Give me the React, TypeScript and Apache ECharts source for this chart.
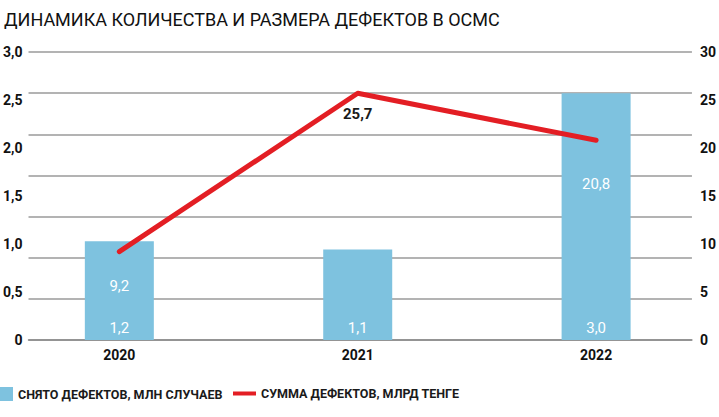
import React, { useEffect, useRef } from "react";
import * as echarts from "echarts";

const title = "ДИНАМИКА КОЛИЧЕСТВА И РАЗМЕРА ДЕФЕКТОВ В ОСМС";
const years = [2020, 2021, 2022];
const barName = "СНЯТО ДЕФЕКТОВ, МЛН СЛУЧАЕВ";
const lineName = "СУММА ДЕФЕКТОВ, МЛРД ТЕНГЕ";
const defectsCount = [1.2, 1.1, 3.0];
const defectsSum = [9.2, 25.7, 20.8];
const lineLabelColors = ["#ffffff", "#1a1a1a", "#ffffff"];
const lineLabelWeights = ["normal", "bold", "normal"];
const lineLabelDistances = [26, 13, 36];

const NARROW = 'Roboto, "DejaVu Sans Condensed", sans-serif';
const fmt = (v: number) => (v === 0 ? "0" : v.toFixed(1).replace(".", ","));

export default function App() {
  const ref = useRef<HTMLDivElement>(null);
  useEffect(() => {
    if (!ref.current) return;
    const chart = echarts.init(ref.current, null, { renderer: "svg" });
    chart.setOption({
      animation: false,
      backgroundColor: "#ffffff",
      title: {
        text: title,
        left: -1,
        top: 5,
        textStyle: { fontFamily: "Roboto, sans-serif", fontWeight: "normal", fontSize: 18, color: "#111" },
      },
      legend: [
        {
          data: [{ name: barName, icon: "rect" }],
          left: -6,
          top: 382,
          itemWidth: 14,
          itemHeight: 14,
          itemGap: 5,
          textStyle: { fontFamily: NARROW, fontWeight: "bold", fontSize: 12.5, color: "#1a1a1a" },
        },
        {
          data: [{ name: lineName, icon: "rect" }],
          left: 228,
          top: 382,
          itemWidth: 23,
          itemHeight: 4,
          itemGap: 5,
          itemStyle: { color: "#e31e24" },
          textStyle: { fontFamily: NARROW, fontWeight: "bold", fontSize: 12.5, color: "#1a1a1a" },
        },
      ],
      grid: { left: 27, right: 24, top: 52, bottom: 77, containLabel: false },
      xAxis: {
        type: "value",
        min: 2019.619,
        max: 2022.402,
        splitLine: { show: false },
        axisTick: { show: false },
        axisLine: { show: true, onZero: false, lineStyle: { color: "#8a8a8a", width: 1.5 } },
        axisLabel: {
          customValues: years,
          formatter: (v: number) => String(v),
          margin: 8,
          fontFamily: NARROW,
          fontWeight: "bold",
          fontSize: 14,
          color: "#111",
        },
      },
      yAxis: [
        {
          type: "value",
          position: "left",
          min: 0,
          max: 3,
          interval: 0.5,
          splitLine: { show: false },
          axisLine: { show: false },
          axisTick: { show: false },
          axisLabel: { formatter: fmt, margin: 6, fontFamily: NARROW, fontWeight: "bold", fontSize: 14, color: "#111" },
        },
        {
          type: "value",
          position: "right",
          min: 0,
          max: 30,
          interval: 5,
          splitLine: { show: false },
          axisLine: { show: false },
          axisTick: { show: false },
          axisLabel: { margin: 8, fontFamily: NARROW, fontWeight: "bold", fontSize: 14, color: "#111" },
        },
        {
          type: "value",
          position: "left",
          min: 0,
          max: 3.5,
          interval: 0.5,
          axisLabel: { show: false },
          axisLine: { show: false },
          axisTick: { show: false },
          splitLine: { show: true, lineStyle: { color: "#9a9a9a", width: 1.5 } },
        },
      ],
      series: [
        {
          name: barName,
          type: "bar",
          yAxisIndex: 2,
          barWidth: 69,
          itemStyle: { color: "#7ec2df" },
          data: years.map((y, i) => [y, defectsCount[i]]),
          label: {
            show: true,
            position: "insideBottom",
            distance: 5,
            color: "#ffffff",
            fontFamily: NARROW,
            fontSize: 15,
            formatter: (p: any) => fmt(p.value[1]),
          },
          z: 2,
        },
        {
          name: lineName,
          type: "line",
          yAxisIndex: 1,
          symbol: "circle",
          symbolSize: 1,
          showSymbol: true,
          lineStyle: { color: "#e31e24", width: 5, cap: "round", join: "round" },
          itemStyle: { color: "#e31e24" },
          data: years.map((y, i) => ({
            value: [y, defectsSum[i]],
            label: {
              show: true,
              position: "bottom",
              distance: lineLabelDistances[i],
              color: lineLabelColors[i],
              fontWeight: lineLabelWeights[i],
              fontFamily: NARROW,
              fontSize: 15,
              formatter: fmt(defectsSum[i]),
            },
          })),
          z: 3,
        },
      ],
    });
    return () => chart.dispose();
  }, []);
  return <div ref={ref} style={{ width: 719, height: 417, position: "fixed", left: 0, top: 0 }} />;
}
